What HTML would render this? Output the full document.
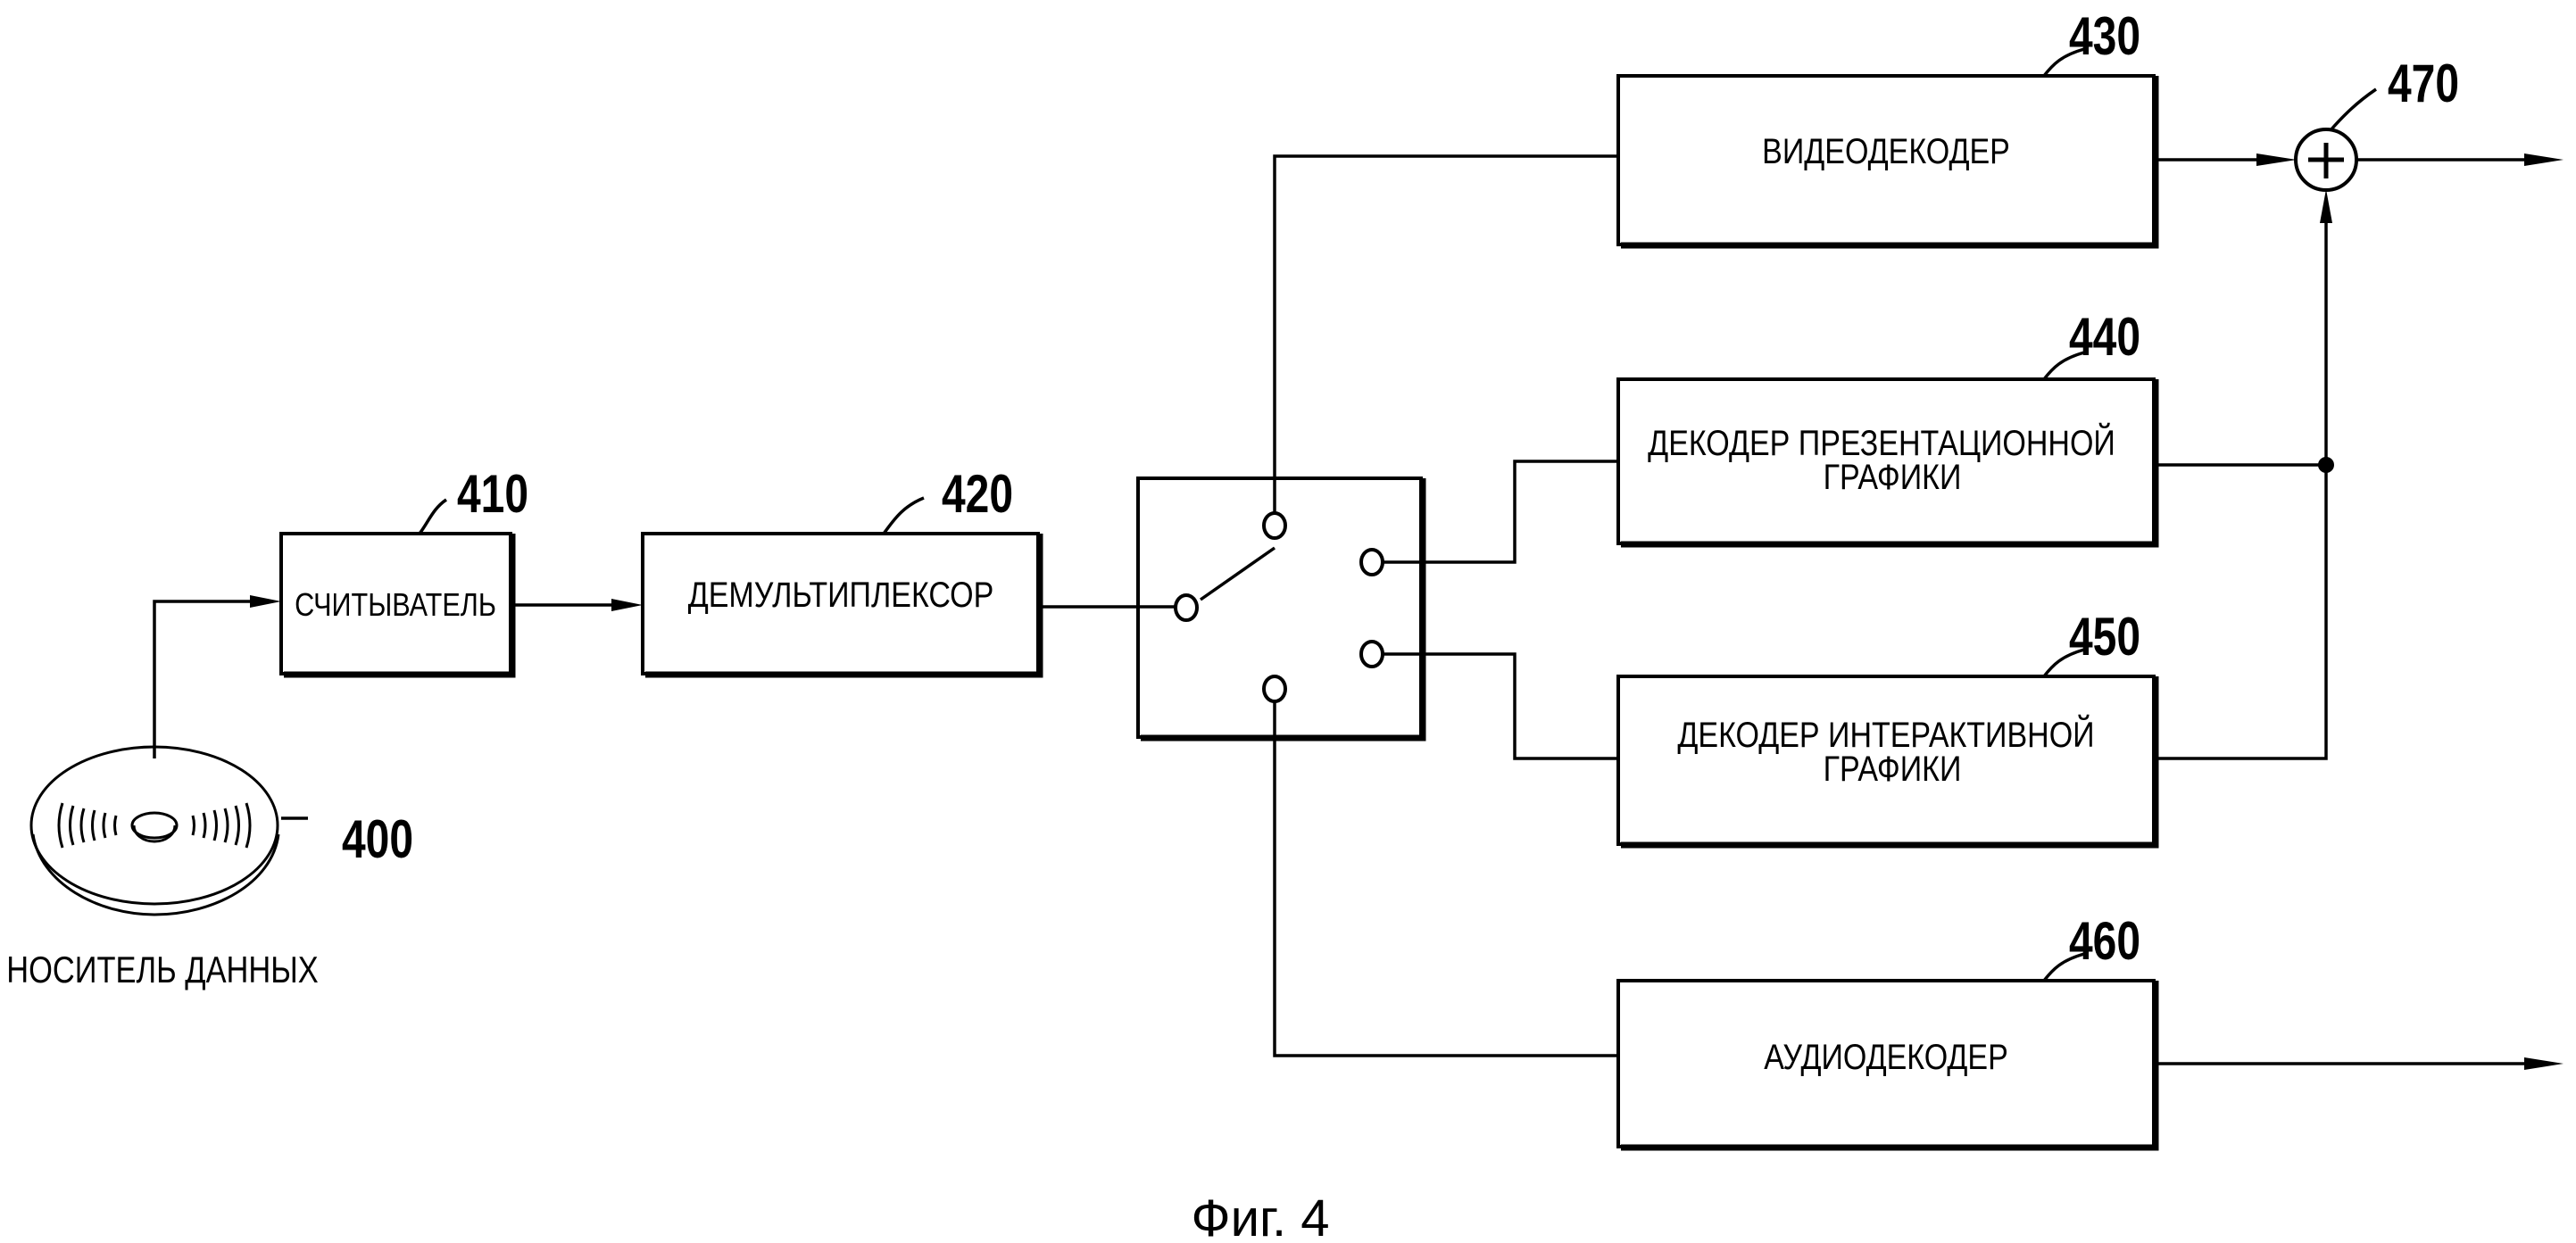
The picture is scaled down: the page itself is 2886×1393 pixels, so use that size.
<!DOCTYPE html>
<html><head><meta charset="utf-8"><style>
html,body{margin:0;padding:0;background:#fff;}
svg{display:block;}
text{font-family:"Liberation Sans",sans-serif;fill:#000;}
</style></head><body>
<svg width="2886" height="1393" viewBox="0 0 2886 1393" xmlns="http://www.w3.org/2000/svg">
<g fill="none" stroke="#000" stroke-width="4">
<rect x="315" y="598" width="257" height="157"/>
<rect x="720" y="598" width="443" height="157"/>
<rect x="1275" y="536" width="317" height="290"/>
<rect x="1813" y="85" width="600" height="189"/>
<rect x="1813" y="425" width="600" height="184"/>
<rect x="1813" y="758" width="600" height="188"/>
<rect x="1813" y="1099" width="600" height="186"/>
</g>
<g stroke="#000" stroke-width="7" fill="none">
<path d="M318,756 H574 V598"/><path d="M723,756 H1165 V598"/><path d="M1278,827 H1594 V536"/>
<path d="M1816,275 H2415 V85"/><path d="M1816,610 H2415 V425"/><path d="M1816,947 H2415 V758"/><path d="M1816,1286 H2415 V1099"/>
</g>
<g fill="none" stroke="#000" stroke-width="3.5">
<path d="M173,850 V674 H300"/>
<path d="M572,678 H705"/>
<path d="M1163,680 H1318"/>
<path d="M1428,575 V175 H1813"/>
<path d="M1345,672 L1428,614"/>
<path d="M1547,630 H1697 V517 H1813"/>
<path d="M1547,733 H1697 V850 H1813"/>
<path d="M1428,783 V1183 H1813"/>
<path d="M2413,179 H2555"/>
<path d="M2413,521 H2606"/>
<path d="M2413,850 H2606 V230"/>
<path d="M2639,179 H2830"/>
<path d="M2413,1192 H2830"/>
<path d="M470,598 C480,585 485,570 500,560"/>
<path d="M990,598 C1000,585 1010,568 1035,558"/>
<path d="M2290,85 C2300,72 2310,62 2335,55"/>
<path d="M2290,425 C2300,412 2310,402 2335,395"/>
<path d="M2290,758 C2300,745 2310,735 2335,728"/>
<path d="M2290,1099 C2300,1086 2310,1076 2335,1069"/>
<path d="M2611,146 C2625,130 2640,115 2662,100"/>
<path d="M315,917 H345"/>
</g>
<g fill="#000">
<polygon points="315,674 280,667 280,681"/>
<polygon points="720,678 685,671 685,685"/>
<polygon points="2573,179 2528,172 2528,186"/>
<polygon points="2606,212 2599,250 2613,250"/>
<polygon points="2872,179 2828,172 2828,186"/>
<polygon points="2872,1192 2828,1185 2828,1199"/>
<circle cx="2606" cy="521" r="9"/>
</g>
<g fill="#fff" stroke="#000" stroke-width="4">
<ellipse cx="1428" cy="589" rx="12" ry="14"/>
<ellipse cx="1329" cy="681" rx="12" ry="14"/>
<ellipse cx="1537" cy="630" rx="12" ry="14"/>
<ellipse cx="1537" cy="733" rx="12" ry="14"/>
<ellipse cx="1428" cy="772" rx="12" ry="14"/>
<circle cx="2606" cy="179" r="34"/>
</g>
<path d="M2606,160 V200 M2586,179 H2626" stroke="#000" stroke-width="5"/>
<g fill="none" stroke="#000" stroke-width="3">
<ellipse cx="173" cy="925" rx="138" ry="88"/>
<path d="M37,935 C45,990 110,1025 173,1025 C240,1025 305,990 312,935"/>
<ellipse cx="173" cy="925" rx="25" ry="14"/>
<path d="M150,925 c0,10 10,18 23,18 c13,0 23,-8 23,-18"/>
<path d="M70,900 q-8,25 0,50 M82,903 q-7,22 0,44 M94,906 q-6,19 0,38 M106,908 q-5,17 0,34 M118,911 q-4,14 0,28 M130,914 q-3,11 0,22"/>
<path d="M276,900 q8,25 0,50 M264,903 q7,22 0,44 M252,906 q6,19 0,38 M240,908 q5,17 0,34 M228,911 q4,14 0,28 M216,914 q3,11 0,22"/>
</g>
<g font-size="40" text-anchor="middle">
<text x="443" y="690" transform="translate(443 0) scale(0.85 1) translate(-443 0)" font-size="36">СЧИТЫВАТЕЛЬ</text>
<text x="942" y="680" transform="translate(942 0) scale(0.85 1) translate(-942 0)">ДЕМУЛЬТИПЛЕКСОР</text>
<text x="2113" y="183" transform="translate(2113 0) scale(0.85 1) translate(-2113 0)">ВИДЕОДЕКОДЕР</text>
<text x="2108" y="510" transform="translate(2108 0) scale(0.85 1) translate(-2108 0)">ДЕКОДЕР ПРЕЗЕНТАЦИОННОЙ</text>
<text x="2120" y="548" transform="translate(2120 0) scale(0.85 1) translate(-2120 0)">ГРАФИКИ</text>
<text x="2113" y="837" transform="translate(2113 0) scale(0.85 1) translate(-2113 0)">ДЕКОДЕР ИНТЕРАКТИВНОЙ</text>
<text x="2120" y="875" transform="translate(2120 0) scale(0.85 1) translate(-2120 0)">ГРАФИКИ</text>
<text x="2113" y="1198" transform="translate(2113 0) scale(0.85 1) translate(-2113 0)">АУДИОДЕКОДЕР</text>
<text x="182" y="1101" font-size="42" transform="translate(182 0) scale(0.82 1) translate(-182 0)">НОСИТЕЛЬ ДАННЫХ</text>
</g>
<g font-size="60" font-weight="bold" text-anchor="middle">
<text x="552" y="574" transform="translate(552 0) scale(0.8 1) translate(-552 0)">410</text>
<text x="1095" y="574" transform="translate(1095 0) scale(0.8 1) translate(-1095 0)">420</text>
<text x="2358" y="61" transform="translate(2358 0) scale(0.8 1) translate(-2358 0)">430</text>
<text x="2358" y="398" transform="translate(2358 0) scale(0.8 1) translate(-2358 0)">440</text>
<text x="2358" y="734" transform="translate(2358 0) scale(0.8 1) translate(-2358 0)">450</text>
<text x="2358" y="1075" transform="translate(2358 0) scale(0.8 1) translate(-2358 0)">460</text>
<text x="2715" y="114" transform="translate(2715 0) scale(0.8 1) translate(-2715 0)">470</text>
<text x="423" y="961" transform="translate(423 0) scale(0.8 1) translate(-423 0)">400</text>
</g>
<text x="1412" y="1385" font-size="58" text-anchor="middle">Фиг. 4</text>
</svg>
</body></html>
